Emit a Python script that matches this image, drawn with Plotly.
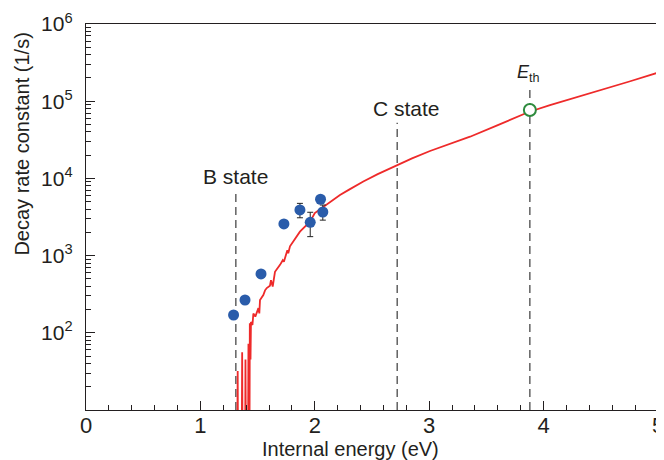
import plotly.graph_objects as go

# Calculated decay rate curve (red)
curve_energy = [1.320, 1.326, 1.330, 1.360, 1.365, 1.370, 1.390, 1.394, 1.400, 1.415,
                1.420, 1.425, 1.428, 1.432, 1.438, 1.442, 1.455, 1.463, 1.480, 1.507,
                1.515, 1.521, 1.550, 1.565, 1.580, 1.608, 1.617, 1.632, 1.652, 1.696,
                1.720, 1.730, 1.760, 1.768, 1.783, 1.870, 1.958, 2.000, 2.074, 2.133,
                2.220, 2.300, 2.424, 2.550, 2.710, 2.850, 3.007, 3.200, 3.357, 3.600,
                3.870, 4.056, 4.250, 4.520, 4.750, 5.000]
curve_rate = [1, 32, 1, 1, 56, 1, 1, 45, 1, 1,
              72, 1, 1, 133, 45, 138, 126, 178, 162, 209,
              178, 266, 309, 355, 380, 407, 479, 398, 617, 759,
              871, 832, 1175, 1072, 1318, 2042, 2754, 3548, 4266, 5012,
              6095, 7161, 9120, 11350, 14791, 18197, 22646, 28840, 34674, 48978,
              72444, 89125, 108400, 139637, 179887, 234423]

# Measured decay rates (blue)
meas_energy = [1.29, 1.39, 1.53, 1.73, 1.87, 1.96, 2.05, 2.07]
meas_rate = [170, 266, 578, 2570, 3900, 2700, 5370, 3670]
meas_err_plus = [0, 0, 0, 0, 850, 940, 0, 850]
meas_err_minus = [0, 0, 0, 0, 810, 940, 0, 790]

# Threshold point (green open circle)
eth_energy = [3.88]
eth_rate = [77000]

# Marker lines: label, energy, top of dashed line
state_labels = ["B state", "C state", "<i>E</i><sub>th</sub>"]
state_energy = [1.31, 2.72, 3.88]
state_line_top = [6460, 52500, 140000]
label_log_y = [4.02, 4.91, 5.365]
label_x = [1.311, 2.80, 3.87]

x_ticks = [0, 1, 2, 3, 4, 5]
y_ticks = [1e2, 1e3, 1e4, 1e5, 1e6]
y_ticktext = ["10<sup>2</sup>", "10<sup>3</sup>", "10<sup>4</sup>", "10<sup>5</sup>", "10<sup>6</sup>"]

FONT = "Liberation Sans, Arial, sans-serif"
INK = "#231f20"

fig = go.Figure()

for e, top in zip(state_energy, state_line_top):
    fig.add_trace(go.Scatter(
        x=[e, e], y=[10, top], mode="lines",
        line=dict(color="#3a3a3a", width=1.2, dash="8px,5px"),
        hoverinfo="skip", showlegend=False))

fig.add_trace(go.Scatter(
    x=curve_energy, y=curve_rate, mode="lines",
    line=dict(color="#ee2a2a", width=1.8), showlegend=False))

fig.add_trace(go.Scatter(
    x=meas_energy, y=meas_rate, mode="markers",
    marker=dict(color="#2a5caa", size=11),
    error_y=dict(type="data", symmetric=False, array=meas_err_plus,
                 arrayminus=meas_err_minus, color="#222222", thickness=1, width=3),
    showlegend=False))

fig.add_trace(go.Scatter(
    x=eth_energy, y=eth_rate, mode="markers",
    marker=dict(color="white", size=12, line=dict(color="#2e8b3e", width=2)),
    showlegend=False))

for txt, lx, ly in zip(state_labels, label_x, label_log_y):
    fig.add_annotation(x=lx, y=ly, xref="x", yref="y", text=txt, showarrow=False,
                       xanchor="center", yanchor="middle",
                       font=dict(family=FONT, size=21 if "state" in txt else 18, color=INK))

# Axis titles
fig.add_annotation(x=0.463, y=-0.100, xref="paper", yref="paper", showarrow=False,
                   xanchor="center", yanchor="middle", borderpad=0,
                   text="Internal energy (eV)", font=dict(family=FONT, size=20, color=INK))
fig.add_annotation(x=-0.112, y=0.69, xref="paper", yref="paper", showarrow=False,
                   xanchor="center", yanchor="middle",
                   textangle=-90, text="Decay rate constant (1/s)",
                   font=dict(family=FONT, size=20, color=INK))

# The page body has an 8px default margin, so the figure is sized to fit inside.
fig.update_layout(
    width=656, height=452,
    margin=dict(l=78, r=6, t=16, b=50, autoexpand=False),
    paper_bgcolor="white", plot_bgcolor="white",
    font=dict(family=FONT, size=22, color=INK),
)
fig.update_xaxes(
    range=[0, 5], tickvals=x_ticks, ticks="inside", ticklen=9, tickwidth=1,
    tickcolor=INK, showline=True, linecolor=INK, linewidth=1.3, mirror=True,
    showgrid=False, zeroline=False, automargin=False, tickfont=dict(size=22),
    ticklabeloverflow="allow", ticklabelstandoff=-5,
    minor=dict(ticks="inside", ticklen=5, dtick=0.2, tickcolor=INK, showgrid=False),
)
fig.update_yaxes(
    type="log", range=[1, 6], tickvals=y_ticks, ticktext=y_ticktext,
    ticks="inside", ticklen=9, tickwidth=1, tickcolor=INK,
    showline=True, linecolor=INK, linewidth=1.3, mirror=True,
    showgrid=False, zeroline=False, ticklabelstandoff=8, automargin=False,
    tickfont=dict(size=21), ticklabeloverflow="allow",
    minor=dict(ticks="inside", ticklen=5, tickcolor=INK, showgrid=False,
               tickvals=[m * 10 ** e for e in range(1, 6) for m in range(2, 10)]),
)

fig.write_html("out.html")
